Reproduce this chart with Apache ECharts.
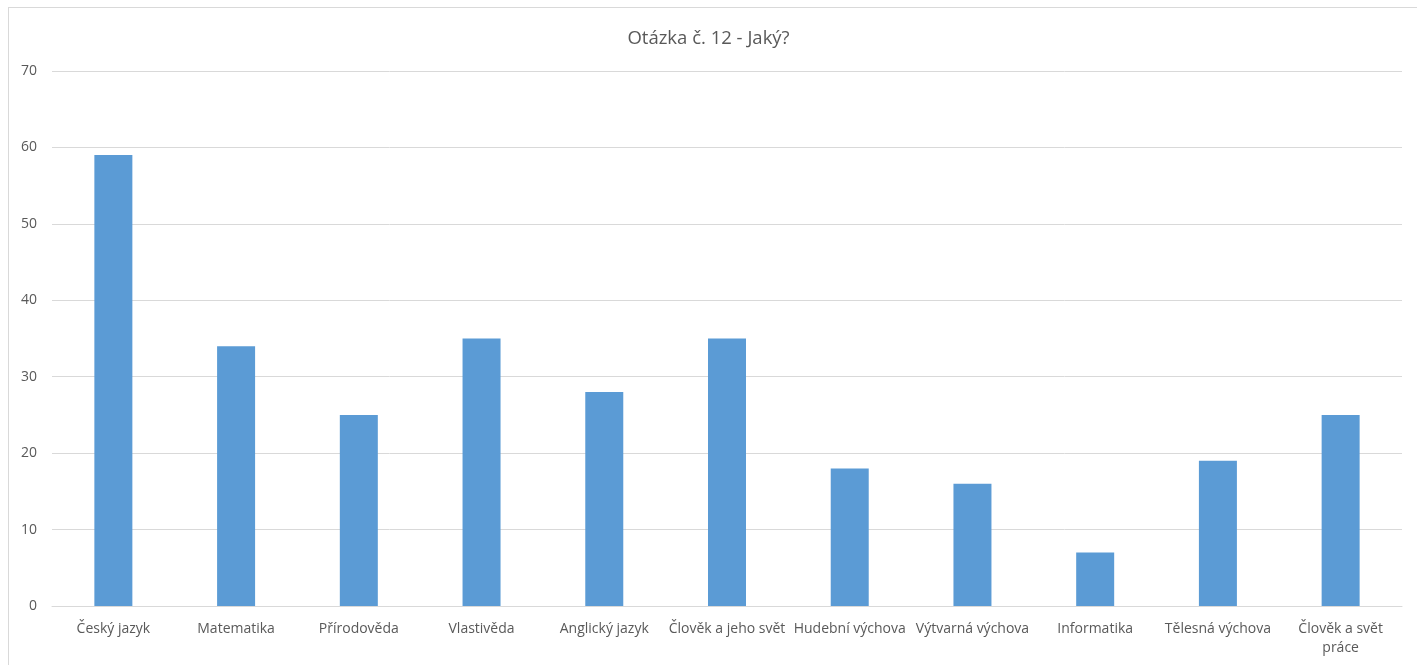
<!DOCTYPE html>
<html><head><meta charset="utf-8">
<script src="https://cdn.jsdelivr.net/npm/echarts@6/dist/echarts.min.js"></script>
<style>
html,body{margin:0;padding:0;background:#fff;}
#frame{position:absolute;left:8px;top:7px;width:1420px;height:700px;border-left:1px solid #d9d9d9;border-top:1px solid #d9d9d9;}
#c{position:absolute;left:0;top:0;width:1417px;height:665px;}
</style></head>
<body>
<div id="frame"></div>
<div id="c"></div>
<script>
const titleText = 'Otázka č. 12 - Jaký?';
const categories = ['Český jazyk','Matematika','Přírodověda','Vlastivěda','Anglický jazyk','Člověk a jeho svět','Hudební výchova','Výtvarná výchova','Informatika','Tělesná výchova','Člověk a svět\npráce'];
const values = [59, 34, 25, 35, 28, 35, 18, 16, 7, 19, 25];
const yMin = 0, yMax = 70, yStep = 10;

const chart = echarts.init(document.getElementById('c'));
chart.setOption({
  animation: false,
  title: {
    text: titleText, left: 'center', top: 24,
    textStyle: {fontFamily: 'Open Sans', fontSize: 18.5, fontWeight: 'normal', color: '#595959'}
  },
  grid: {left: 52, right: 15, top: 71, bottom: 59, containLabel: false},
  xAxis: {
    type: 'category', data: categories,
    axisLine: {lineStyle: {color: '#d9d9d9'}},
    axisTick: {show: false},
    axisLabel: {interval: 0, color: '#595959', fontFamily: 'Open Sans', fontSize: 14, margin: 14, lineHeight: 19}
  },
  yAxis: {
    type: 'value', min: yMin, max: yMax, interval: yStep,
    axisLine: {show: false}, axisTick: {show: false},
    splitLine: {lineStyle: {color: '#d9d9d9'}},
    axisLabel: {color: '#595959', fontFamily: 'Open Sans', fontSize: 14, margin: 15}
  },
  series: [{
    type: 'bar', data: values, barWidth: 38,
    itemStyle: {color: '#5b9bd5'}
  }]
});
</script>
</body></html>
